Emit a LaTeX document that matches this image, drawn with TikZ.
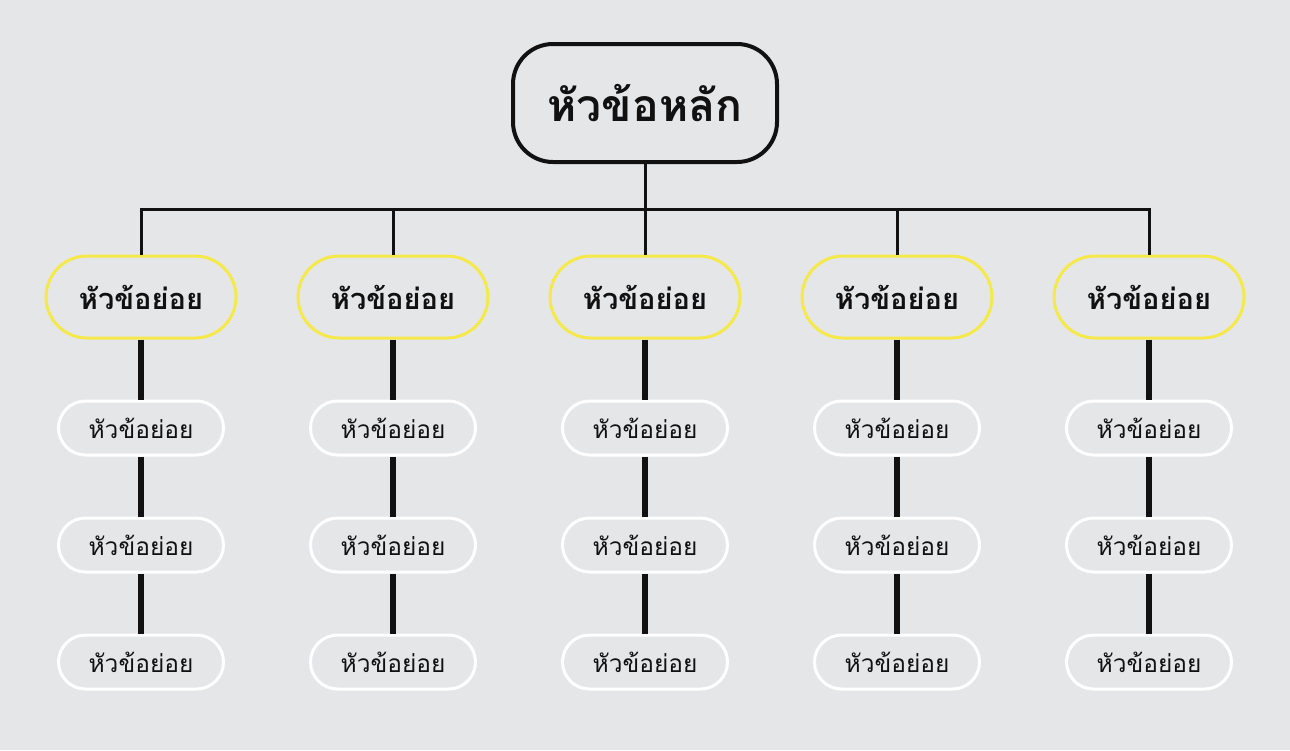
\documentclass[tikz,border=0pt]{standalone}
\usepackage{fontspec}
\newfontfamily\thaifont[Script=Thai]{Loma}
\definecolor{bg}{HTML}{E5E6E8}
\definecolor{ink}{HTML}{111111}
\definecolor{ylw}{HTML}{F5E94A}
\begin{document}
\begin{tikzpicture}[x=1pt,y=-1pt,
  mainbox/.style={draw=ink,line width=4pt,rounded corners=40pt,minimum width=264pt,minimum height=118pt,inner sep=0pt,font=\thaifont\bfseries\fontsize{44.5}{52}\selectfont,text=ink},
  subbox/.style={draw=ylw,line width=3pt,rounded corners=41pt,minimum width=190pt,minimum height=82pt,inner sep=0pt,font=\thaifont\bfseries\fontsize{29}{34}\selectfont,text=ink},
  leafbox/.style={draw=white,line width=3pt,rounded corners=27pt,minimum width=165pt,minimum height=54pt,inner sep=0pt,font=\thaifont\fontsize{24.5}{29}\selectfont,text=ink},
  bus/.style={draw=ink,line width=3pt},
  thick link/.style={draw=ink,line width=6pt}]
\fill[bg] (0,0) rectangle (1290,750);
\useasboundingbox (0,0) rectangle (1290,750);
\node[mainbox] (m) at (645,103) {หัวข้อหลัก};
\coordinate (j) at (645,209);
\draw[bus] (m.south) -- (j);
\foreach \i/\x in {1/141,2/393,3/645,4/897,5/1149}{
  \node[subbox] (s\i) at (\x,297) {หัวข้อย่อย};
  \node[leafbox] (a\i) at (\x,428) {หัวข้อย่อย};
  \node[leafbox] (b\i) at (\x,545) {หัวข้อย่อย};
  \node[leafbox] (c\i) at (\x,662) {หัวข้อย่อย};
  \draw[thick link] (s\i.south) -- (a\i.north);
  \draw[thick link] (a\i.south) -- (b\i.north);
  \draw[thick link] (b\i.south) -- (c\i.north);
}
\draw[bus,line join=miter] (s1.north) -- (s1.north |- j) -- (s5.north |- j) -- (s5.north);
\foreach \i in {2,3,4}{\draw[bus] (s\i.north) -- (s\i.north |- j);}
\end{tikzpicture}
\end{document}
